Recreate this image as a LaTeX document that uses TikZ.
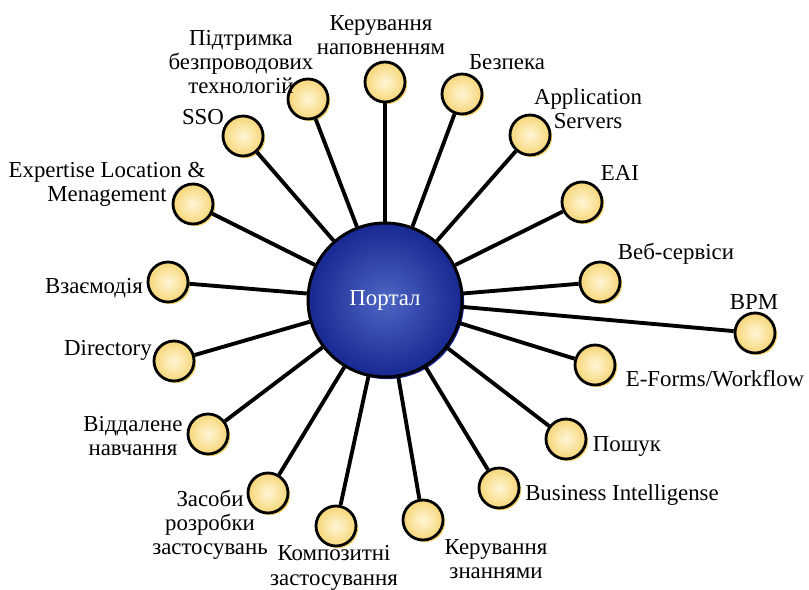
\documentclass[tikz,border=0pt]{standalone}
\usepackage{fontspec}
\setmainfont{Liberation Serif}
\usetikzlibrary{shadows}

\definecolor{portalin}{RGB}{78,102,196}
\definecolor{portalout}{RGB}{24,40,146}
\definecolor{bulbin}{RGB}{255,246,214}
\definecolor{bulbout}{RGB}{247,214,120}
\definecolor{bulbshade}{RGB}{245,210,100}

\tikzset{
    portal/.style={circle, draw, line width=1.7pt, minimum size=154\unitpx,
        inner color=portalin, outer color=portalout, text=white,
        font=\fontsize{13}{14}\selectfont,
        drop shadow={shadow xshift=1.2pt, shadow yshift=-1.2pt, fill=portalout, opacity=1}},
    bulb/.style={circle, draw, line width=1.6pt, minimum size=40\unitpx, inner sep=0pt,
        inner color=bulbin, outer color=bulbout,
        drop shadow={shadow xshift=1.2pt, shadow yshift=-1.2pt, fill=bulbshade, opacity=1}},
    spoke/.style={line width=2.2pt},
    tag/.style={align=center, inner sep=0pt, font=\fontsize{13}{13.8}\selectfont}
}
\newcommand{\unitpx}{*0.02cm}

\begin{document}
\begin{tikzpicture}[x=0.02cm, y=-0.02cm]
    \useasboundingbox (0,0) rectangle (809,589);
    % Hub
    \node[portal] (portal) at (385, 300) {Портал};
    % Satellites with their captions
    \foreach \n/\x/\y/\lx/\ly/\txt in {
        wireless/308/99/241/62/{Підтримка\\безпроводових\\технологій},
        content/385/82/381/35/{Керування\\наповненням},
        sso/243/136/203/117/{SSO},
        expert/193/204/107/184/{Expertise Location \&\\Menagement},
        security/462/94/507/62/{Безпека},
        appserv/530/135/588/109/{Application\\Servers},
        eai/582/202/620/173/{EAI},
        collab/168/282/94/288/{Взаємодія},
        directory/174/361/108/350/{Directory},
        elearn/208/434/133/436/{Віддалене\\навчання},
        devtools/268/493/210/525/{Засоби\\розробки\\застосувань},
        composite/336/526/334/568/{Композитні\\застосування},
        knowledge/423/520/496/559/{Керування\\знаннями},
        webserv/600/282/676/254/{Веб-сервіси},
        bpm/755/333/754/302/{BPM},
        eforms/595/365/715/379/{E-Forms/Workflow},
        search/566/439/627/446/{Пошук},
        bi/499/488/622/495/{Business Intelligense}}
    {
        \node[bulb] (\n) at (\x, \y) {};
        \draw[spoke] (portal) -- (\n);
        \node[tag] (\n-lbl) at (\lx, \ly) {\txt};
    }
\end{tikzpicture}
\end{document}
